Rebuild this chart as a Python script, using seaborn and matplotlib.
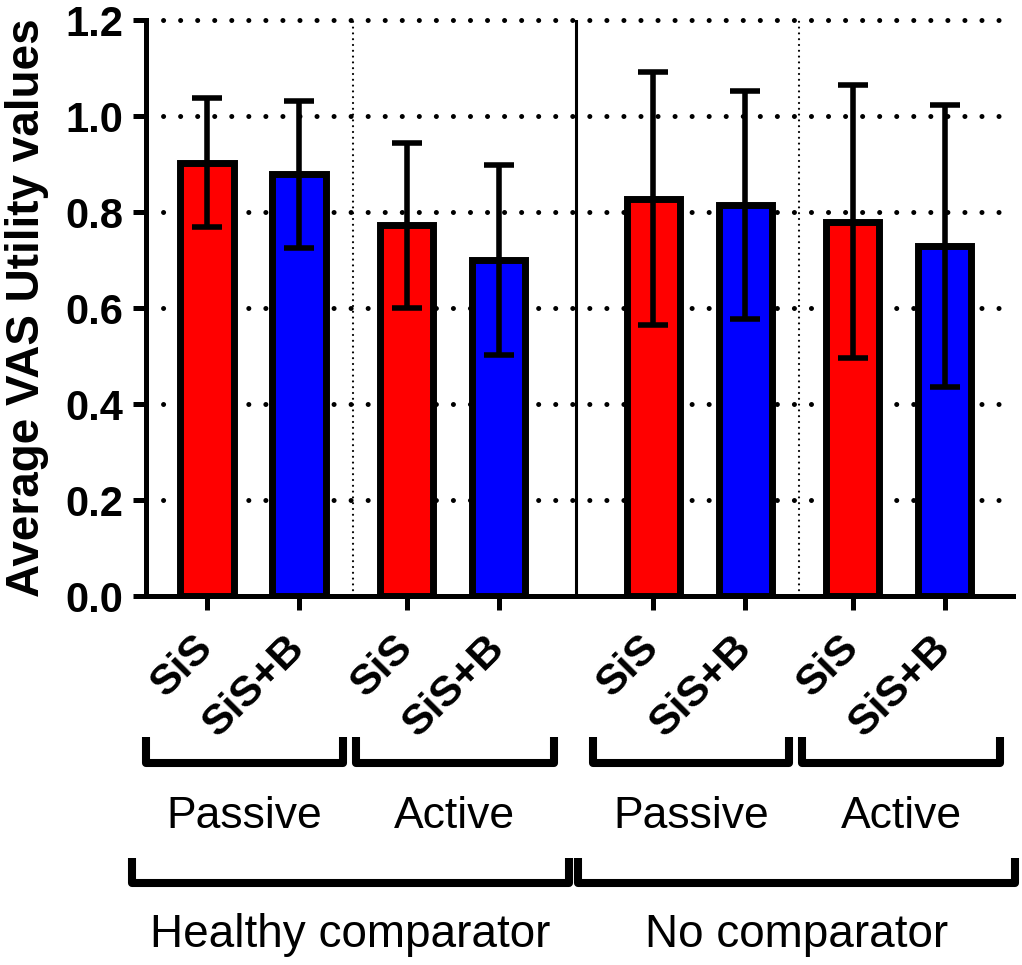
import numpy as np
import pandas as pd
import matplotlib
matplotlib.use("Agg")
import matplotlib.pyplot as plt
import seaborn as sns

# data
comparators = ["Healthy comparator"] * 4 + ["No comparator"] * 4
modes = ["Passive", "Passive", "Active", "Active"] * 2
treatments = ["SiS", "SiS+B"] * 4
means = [0.903, 0.879, 0.772, 0.700, 0.828, 0.815, 0.780, 0.729]
sds = [0.135, 0.153, 0.172, 0.197, 0.263, 0.237, 0.285, 0.293]

df = pd.DataFrame({"comparator": comparators, "mode": modes,
                   "treatment": treatments, "mean": means, "sd": sds})

# x layout: pairs of bars, small gap between modes, bigger gap between comparators
k = np.arange(len(df))
df["pos"] = k + 0.17 * ((k // 2) % 2) + 0.85 * (k // 4)

sns.set_style("ticks")
plt.rcParams["font.family"] = ["Liberation Sans", "DejaVu Sans"]
for key in ["text.color", "axes.labelcolor", "xtick.color", "ytick.color",
            "axes.edgecolor"]:
    plt.rcParams[key] = "black"

fig = plt.figure(figsize=(10.22, 9.65), dpi=100)
ax = fig.add_axes([146 / 1022, 1 - 596 / 965, (1013 - 146) / 1022, (596 - 20) / 965])

# dotted horizontal grid
for yv in [0.2, 0.4, 0.6, 0.8, 1.0, 1.2]:
    ax.axhline(yv, color="black", lw=3.6, linestyle=(0, (0.01, 3.4)),
               dash_capstyle="round", zorder=0, clip_on=False)

sns.barplot(data=df, x="pos", y="mean", hue="treatment",
            palette={"SiS": "#ff0000", "SiS+B": "#0000ff"}, saturation=1,
            native_scale=True, dodge=False, width=0.577, errorbar=None,
            edgecolor="black", linewidth=5, legend=False, ax=ax, zorder=2)

ax.errorbar(df["pos"], df["mean"], yerr=df["sd"], fmt="none", ecolor="black",
            elinewidth=4, capsize=11, capthick=4, zorder=3)

# separators between groups
pos = df["pos"].values
for i, style in [(1, "dot"), (3, "solid"), (5, "dot")]:
    xs = (pos[i] + pos[i + 1]) / 2
    if style == "dot":
        ax.plot([xs, xs], [0, 1.2], color="black", lw=1.6,
                linestyle=(0, (0.01, 2.6)), dash_capstyle="round", zorder=1)
    else:
        ax.plot([xs, xs], [0, 1.2], color="black", lw=2.2, zorder=1)

ax.set_xlim(-0.663, 8.76)
ax.set_ylim(0, 1.2)
ax.set_yticks([0, 0.2, 0.4, 0.6, 0.8, 1.0, 1.2])
ax.set_yticklabels([f"{v:.1f}" for v in ax.get_yticks()],
                   fontsize=30, fontweight="bold")
ax.set_xticks(pos)
ax.set_xticklabels(df["treatment"], rotation=45, ha="right", va="center",
                   rotation_mode="anchor", fontsize=31, fontweight="bold")
ax.tick_params(axis="x", length=10, width=3.6, pad=23, colors="black")
ax.tick_params(axis="y", length=9.4, width=3.6, pad=7, colors="black")
ax.set_xlabel("")
ax.set_ylabel("Average VAS Utility values", fontsize=33, fontweight="bold",
              color="black")
ax.yaxis.set_label_coords(-0.112, 0.50)

sns.despine(ax=ax)
for s in ["left", "bottom"]:
    ax.spines[s].set_linewidth(3.6)
    ax.spines[s].set_color("black")

trans = ax.get_xaxis_transform()


def bracket(x0, x1, ytop, ybot):
    ax.plot([x0, x0, x1, x1], [ytop, ybot, ybot, ytop], color="black", lw=5.8,
            transform=trans, clip_on=False, solid_joinstyle="round",
            solid_capstyle="butt")


# mode brackets
for g in range(4):
    a, b = pos[2 * g], pos[2 * g + 1]
    if modes[2 * g] == "Passive":
        x0, x1 = a - 0.66, b + 0.48
    else:
        x0, x1 = a - 0.55, b + 0.60
    bracket(x0, x1, -0.245, -0.290)
    ax.text((x0 + x1) / 2, -0.403, modes[2 * g], transform=trans,
            ha="center", va="baseline", fontsize=32, color="black")

# comparator brackets
for g in range(2):
    a, b = pos[4 * g], pos[4 * g + 3]
    x0, x1 = a - 0.82, b + 0.76
    bracket(x0, x1, -0.455, -0.498)
    ax.text((x0 + x1) / 2, -0.609, comparators[4 * g], transform=trans,
            ha="center", va="baseline", fontsize=33, color="black")

fig.savefig("out.png", dpi=100)
